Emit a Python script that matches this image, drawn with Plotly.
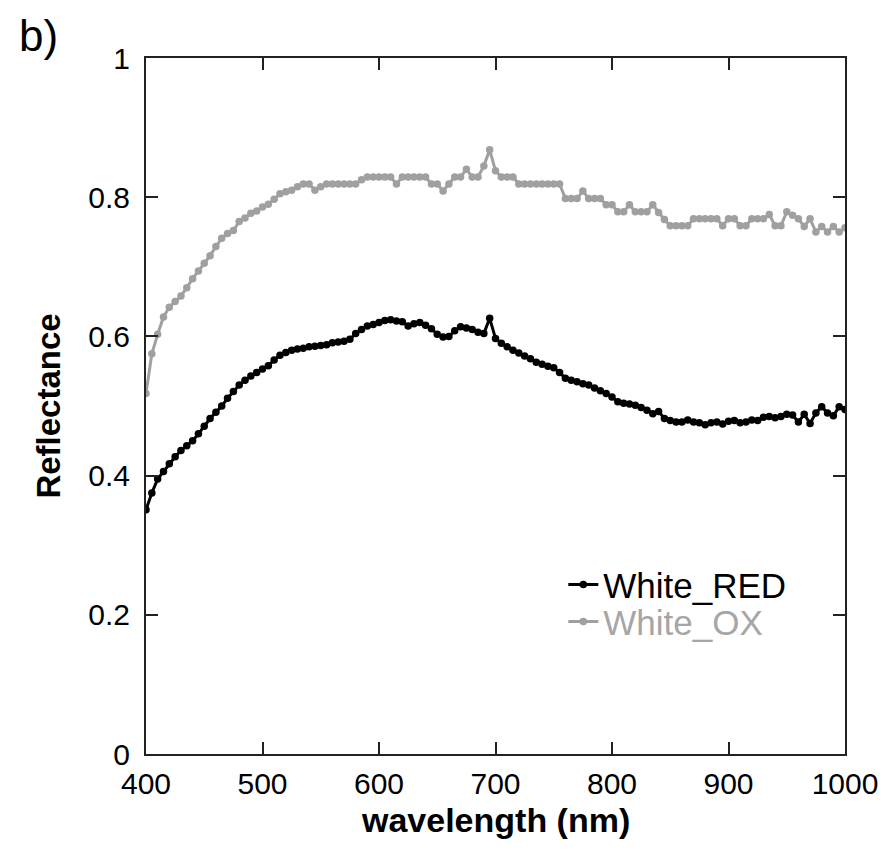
import plotly.graph_objects as go

wavelength = list(range(400, 1001, 5))

white_red = [
    0.351, 0.375, 0.395, 0.406, 0.417, 0.427, 0.436, 0.443, 0.450, 0.460,
    0.471, 0.482, 0.491, 0.500, 0.511, 0.521, 0.530, 0.537, 0.543, 0.548,
    0.553, 0.558, 0.566, 0.573, 0.577, 0.580, 0.582, 0.583, 0.585, 0.586,
    0.587, 0.588, 0.591, 0.592, 0.593, 0.596, 0.604, 0.610, 0.615, 0.617,
    0.620, 0.623, 0.624, 0.622, 0.621, 0.615, 0.618, 0.620, 0.616, 0.611,
    0.603, 0.599, 0.600, 0.608, 0.614, 0.612, 0.610, 0.606, 0.604, 0.626,
    0.597, 0.590, 0.585, 0.580, 0.576, 0.572, 0.568, 0.563, 0.560, 0.557,
    0.555, 0.548, 0.540, 0.537, 0.535, 0.532, 0.530, 0.526, 0.522, 0.518,
    0.513, 0.506, 0.504, 0.503, 0.501, 0.498, 0.494, 0.489, 0.492, 0.482,
    0.479, 0.477, 0.477, 0.480, 0.477, 0.476, 0.473, 0.476, 0.477, 0.474,
    0.478, 0.479, 0.476, 0.477, 0.480, 0.479, 0.484, 0.485, 0.483, 0.485,
    0.488, 0.487, 0.477, 0.488, 0.475, 0.490, 0.499, 0.490, 0.486, 0.499,
    0.495,
]

white_ox = [
    0.518, 0.575, 0.603, 0.628, 0.642, 0.650, 0.658, 0.670, 0.683, 0.694,
    0.705, 0.716, 0.729, 0.741, 0.748, 0.752, 0.765, 0.770, 0.777, 0.780,
    0.786, 0.790, 0.797, 0.805, 0.808, 0.810, 0.815, 0.819, 0.819, 0.810,
    0.815, 0.819, 0.819, 0.819, 0.819, 0.819, 0.819, 0.825, 0.829, 0.829,
    0.829, 0.829, 0.829, 0.819, 0.829, 0.829, 0.829, 0.829, 0.829, 0.819,
    0.819, 0.809, 0.819, 0.829, 0.829, 0.840, 0.829, 0.829, 0.845, 0.868,
    0.838, 0.829, 0.829, 0.829, 0.819, 0.819, 0.819, 0.819, 0.819, 0.819,
    0.819, 0.819, 0.798, 0.798, 0.798, 0.809, 0.798, 0.798, 0.798, 0.789,
    0.789, 0.779, 0.779, 0.789, 0.779, 0.779, 0.779, 0.789, 0.778, 0.768,
    0.759, 0.759, 0.759, 0.759, 0.769, 0.769, 0.769, 0.769, 0.769, 0.759,
    0.769, 0.769, 0.759, 0.759, 0.769, 0.769, 0.769, 0.775, 0.759, 0.759,
    0.779, 0.774, 0.769, 0.758, 0.769, 0.750, 0.758, 0.750, 0.758, 0.750,
    0.756,
]

x_ticks = [400, 500, 600, 700, 800, 900, 1000]
y_ticks = [0, 0.2, 0.4, 0.6, 0.8, 1]
y_tick_labels = ["0", "0.2", "0.4", "0.6", "0.8", "1"]

FONT = "Liberation Sans, Arial, sans-serif"
GRAY = "#a0a0a0"

fig = go.Figure()
fig.add_trace(go.Scatter(
    x=wavelength, y=white_red, mode="lines+markers", name="White_RED",
    line=dict(color="black", width=3), marker=dict(color="black", size=7.5),
    legend="legend",
))
fig.add_trace(go.Scatter(
    x=wavelength, y=white_ox, mode="lines+markers",
    name="<span style='color:#a6a6a6'>White_OX</span>",
    line=dict(color=GRAY, width=3), marker=dict(color=GRAY, size=7.5),
    legend="legend2",
))

axis_common = dict(
    showgrid=False, zeroline=False, showline=True, linecolor="#222",
    linewidth=2, mirror="ticks", ticks="inside", ticklen=12, tickwidth=2,
    tickcolor="#222", tickfont=dict(family=FONT, size=30, color="black"),
)

legend_common = dict(xanchor="left", yanchor="middle", bgcolor="rgba(0,0,0,0)",
                     font=dict(family=FONT, size=35, color="black"))

fig.update_layout(
    width=887, height=850,
    margin=dict(l=138, r=50, t=50, b=104),
    paper_bgcolor="white", plot_bgcolor="white",
    font=dict(family=FONT, color="black"),
    xaxis=dict(range=[400, 1000], tickvals=x_ticks, ticklabelstandoff=2,
               **axis_common),
    yaxis=dict(range=[0, 1], tickvals=y_ticks, ticktext=y_tick_labels, ticklabelstandoff=8,
               title=dict(text="<b>Reflectance</b>", font=dict(size=33, family=FONT), standoff=18),
               **axis_common),
    legend=dict(x=0.597, y=0.243, **legend_common),
    legend2=dict(x=0.597, y=0.190, **legend_common),
    showlegend=True,
)

fig.add_annotation(text="<b>wavelength (nm)</b>", xref="paper", yref="paper",
                   x=0.5, y=-0.0955, xanchor="center", yanchor="middle",
                   showarrow=False, font=dict(family=FONT, size=34, color="black"))

fig.add_annotation(text="b)", xref="paper", yref="paper", x=-0.185, y=1.033,
                   xanchor="left", yanchor="middle", showarrow=False,
                   font=dict(family=FONT, size=44, color="black"))

fig.write_html("out.html")
